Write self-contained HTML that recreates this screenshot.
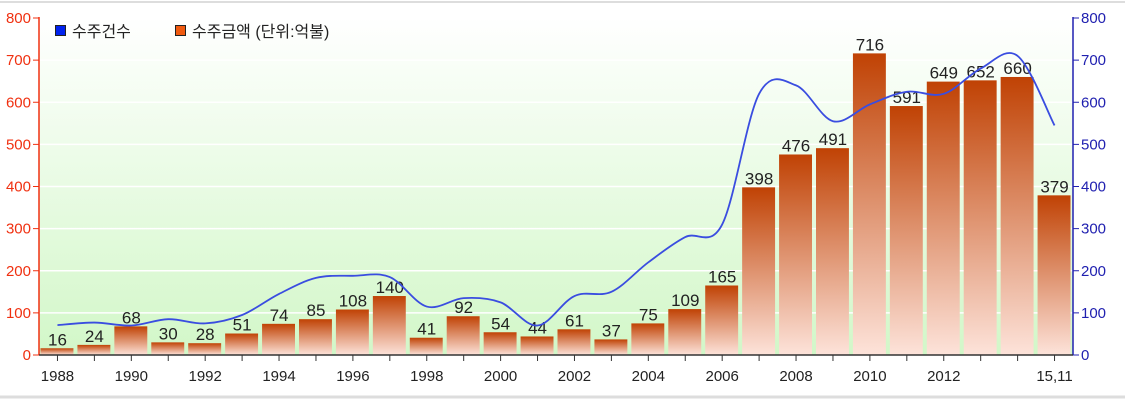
<!DOCTYPE html><html><head><meta charset="utf-8"><style>
body{margin:0;background:#fff;width:1125px;height:401px;overflow:hidden}
text{font-family:"Liberation Sans","Noto Sans CJK KR",sans-serif}
</style></head><body>
<svg id="s" width="1125" height="401" xmlns="http://www.w3.org/2000/svg">
<defs>
<linearGradient id="bg" x1="0" y1="0" x2="0" y2="1"><stop offset="0" stop-color="#ffffff"/><stop offset="1" stop-color="#d2f7c8"/></linearGradient>
<linearGradient id="br" x1="0" y1="0" x2="0" y2="1"><stop offset="0" stop-color="#c04204"/><stop offset="1" stop-color="#fde3da"/></linearGradient>
</defs>
<line x1="0" y1="2" x2="1125" y2="2" stroke="#ddd" stroke-width="2"/>
<line x1="0" y1="397" x2="1125" y2="397" stroke="#ddd" stroke-width="3"/>
<rect x="39" y="18" width="1034" height="337" fill="url(#bg)"/>
<g id="g"></g>
</svg>
<script>
const g=document.getElementById('g');let h='';
const y0=355,k=337/800,x0=39,w=1034/28;
const Y=v=>y0-v*k;
for(let v=100;v<=800;v+=100)h+=`<line x1="39" x2="1073" y1="${Y(v)}" y2="${Y(v)}" stroke="#fff" stroke-width="1.5"/>`;
const bars=[16,24,68,30,28,51,74,85,108,140,41,92,54,44,61,37,75,109,165,398,476,491,716,591,649,652,660,379];
const ln=[71,77,70,85,75,95,145,183,188,185,115,135,125,70,140,150,220,280,310,620,640,555,595,625,620,680,710,545];
bars.forEach((b,i)=>{const x=x0+w*i;
h+=`<rect x="${x+1.5}" y="${Y(b)}" width="${w-4}" height="${b*k}" fill="url(#br)"/>`;
h+=`<text x="${x+w/2}" y="${Y(b)-3}" font-size="17" text-anchor="middle" fill="#222">${b}</text>`;});
const P=ln.map((v,i)=>[x0+w*i+w/2,Y(v)]);
let d=`M${P[0]}`;
for(let i=0;i<P.length-1;i++){const p0=P[i-1]||P[i],p1=P[i],p2=P[i+1],p3=P[i+2]||p2;
d+=` C${p1[0]+(p2[0]-p0[0])/6},${p1[1]+(p2[1]-p0[1])/6} ${p2[0]-(p3[0]-p1[0])/6},${p2[1]-(p3[1]-p1[1])/6} ${p2[0]},${p2[1]}`;}
h+=`<path d="${d}" fill="none" stroke="#3a4de0" stroke-width="1.8"/>`;
h+=`<line x1="39" y1="17" x2="39" y2="355" stroke="#f03010" stroke-width="1.5"/><line x1="1073" y1="17" x2="1073" y2="355" stroke="#2020b0" stroke-width="1.5"/>`;
h+=`<line x1="39" y1="355" x2="1073" y2="355" stroke="#333" stroke-width="1.5"/>`;
for(let v=0;v<=800;v+=100){const y=Y(v);
h+=`<line x1="33" x2="39" y1="${y}" y2="${y}" stroke="#f03010"/><text x="31" y="${y+5}" font-size="15" text-anchor="end" fill="#f03010">${v}</text>`;
h+=`<line x1="1073" x2="1079" y1="${y}" y2="${y}" stroke="#2020b0"/><text x="1081" y="${y+5}" font-size="15" fill="#2020b0">${v}</text>`;}
for(let i=0;i<28;i++){const x=x0+w*i+w/2;h+=`<line x1="${x}" x2="${x}" y1="355" y2="361" stroke="#333"/>`;
if(i%2==0&&i<26)h+=`<text x="${x}" y="381" font-size="15" text-anchor="middle" fill="#222">${1988+i}</text>`;}
h+=`<text x="${x0+w*27.5}" y="381" font-size="15" text-anchor="middle" fill="#222">15,11</text>`;
h+=`<rect x="55.5" y="25.5" width="10" height="10" fill="#0022ee" stroke="#222"/><text x="72" y="37" font-size="16" fill="#222">수주건수</text>`;
h+=`<rect x="175.5" y="25.5" width="10" height="10" fill="#f05a10" stroke="#222"/><text x="192" y="37" font-size="16" fill="#222">수주금액 (단위:억불)</text>`;
g.innerHTML=h;
</script>
</body></html>
